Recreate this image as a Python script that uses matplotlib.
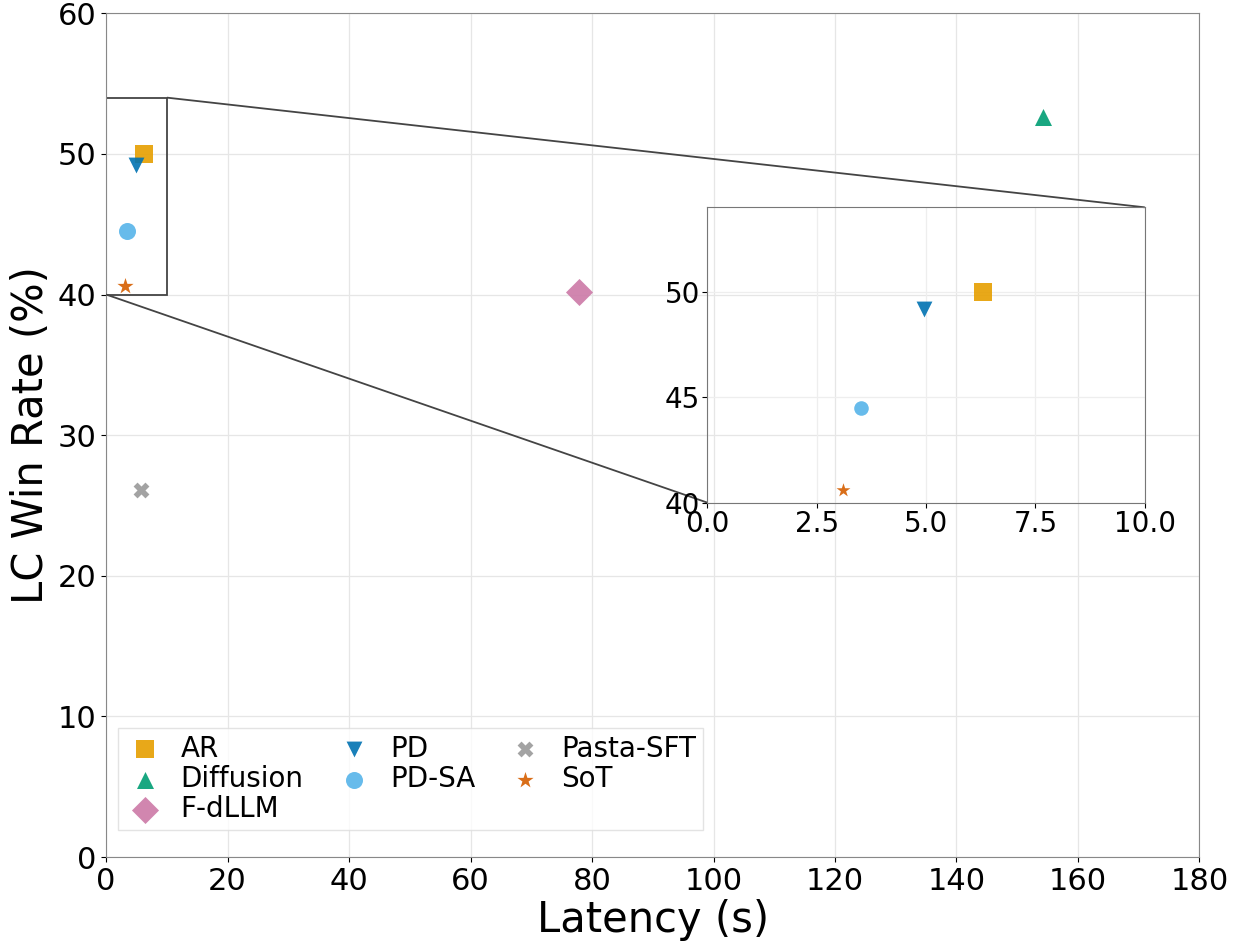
import matplotlib
matplotlib.use('Agg')
import matplotlib.pyplot as plt
from mpl_toolkits.axes_grid1.inset_locator import mark_inset

# data
methods = ['AR', 'Diffusion', 'F-dLLM', 'PD', 'PD-SA', 'Pasta-SFT', 'SoT']
latency = [6.3, 154.2, 77.8, 4.95, 3.5, 5.8, 3.1]
win_rate = [50.0, 52.6, 40.2, 49.2, 44.5, 26.1, 40.6]
markers = ['s', '^', 'D', 'v', 'o', 'X', '*']
colors = ['#E69F00', '#009E73', '#CC79A7', '#0072B2', '#56B4E9', '#999999', '#D55E00']
sizes = [150, 150, 190, 130, 150, 130, 150]
inset_sizes = [150, 150, 190, 130, 110, 130, 110]

fig, ax = plt.subplots(figsize=(12.34, 9.47), dpi=100)
fig.subplots_adjust(left=0.086, right=0.972, top=0.986, bottom=0.095)

for m, x, y, mk, c, s in zip(methods, latency, win_rate, markers, colors, sizes):
    ax.scatter(x, y, marker=mk, color=c, s=s, label=m, alpha=0.9, linewidths=0, zorder=3)

ax.set_xlim(0, 180)
ax.set_ylim(0, 60)
ax.set_xticks(range(0, 181, 20))
ax.set_yticks(range(0, 61, 10))
ax.tick_params(labelsize=22)
ax.set_xlabel('Latency (s)', fontsize=30, labelpad=2)
ax.set_ylabel('LC Win Rate (%)', fontsize=30)
ax.grid(True, color='#e6e6e6', linewidth=0.9)
ax.set_axisbelow(True)
for sp in ax.spines.values():
    sp.set_color('#888888')

ax.legend(loc='lower left', ncol=3, fontsize=20, frameon=True, fancybox=False,
          edgecolor='#dddddd', bbox_to_anchor=(0.011, 0.032), borderaxespad=0,
          columnspacing=1.1, handlelength=1.4, handletextpad=0.6,
          labelspacing=0.08, borderpad=0.25)

# inset zoom on low-latency methods
axins = ax.inset_axes([0.55, 0.42, 0.40, 0.35])
axins.set_facecolor('none')
for x, y, mk, c, s in zip(latency, win_rate, markers, colors, inset_sizes):
    axins.scatter(x, y, marker=mk, color=c, s=s, alpha=0.9, linewidths=0, zorder=3)
axins.set_xlim(0, 10)
axins.set_ylim(40, 54)
axins.set_xticks([0, 2.5, 5, 7.5, 10])
axins.set_xticklabels(['0.0', '2.5', '5.0', '7.5', '10.0'])
axins.set_yticks([40, 45, 50])
axins.tick_params(labelsize=20, pad=2)
axins.grid(True, color='#eeeeee', linewidth=0.9)
for sp in axins.spines.values():
    sp.set_color('#777777')

mark_inset(ax, axins, loc1=1, loc2=3, fc='none', ec='#444444', lw=1.3)

fig.savefig('out.png', dpi=100)
